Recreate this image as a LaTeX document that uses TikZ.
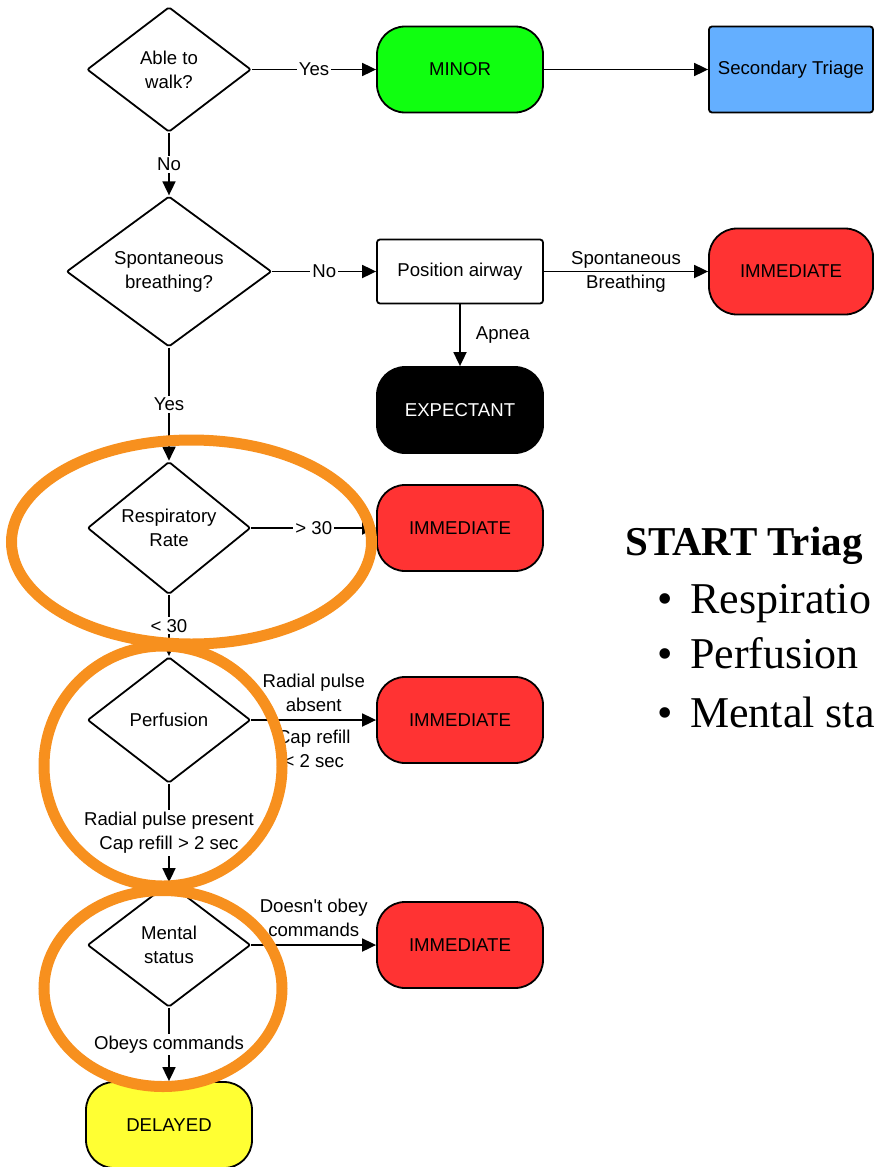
\documentclass[tikz,border=0pt]{standalone}
\usepackage{fontspec}
\setmainfont{Liberation Sans}
\newfontfamily\slidefont{Liberation Serif}
\usetikzlibrary{shapes.geometric,arrows.meta}
\definecolor{minorgreen}{RGB}{16,255,16}
\definecolor{triageblue}{RGB}{100,175,255}
\definecolor{immred}{RGB}{255,51,51}
\definecolor{delayyellow}{RGB}{255,255,51}
\definecolor{markorange}{RGB}{247,144,30}
\newcommand{\diagfont}{\fontsize{18.6}{24}\selectfont}
\begin{document}
\begin{tikzpicture}[x=1pt,y=-1pt,
	decision/.style={diamond,draw,line width=1.8pt,rounded corners=2pt,inner sep=0pt,align=center,font=\diagfont},
	terminal/.style={rectangle,draw,line width=1.8pt,rounded corners=28pt,minimum width=166pt,minimum height=86pt,font=\diagfont},
	process/.style={rectangle,draw,line width=1.8pt,rounded corners=3pt,minimum width=166pt,font=\diagfont},
	arrow/.style={line width=1.8pt,-{Triangle[length=14pt,width=13pt]}},
	lbl/.style={fill=white,inner sep=2pt,align=center,font=\diagfont},
	sidelbl/.style={inner sep=1pt,align=center,font=\diagfont},
	mark_ring/.style={draw=markorange,line width=11pt},
	slide/.style={inner sep=0pt,anchor=base west,font=\slidefont\fontsize{44}{54}\selectfont}]
	
	\useasboundingbox (0,0) rectangle (874,1167);
	\clip (0,0) rectangle (874,1167);
	
	\node[decision,minimum width=164pt,minimum height=125pt] (walk) at (169,69.5) {Able to\\walk?};
	\node[terminal,fill=minorgreen] (minor) at (460,69.5) {MINOR};
	\node[process,fill=triageblue,minimum width=164pt,minimum height=86pt] (second) at (791,69.5) {Secondary Triage};
	\node[decision,minimum width=205pt,minimum height=147pt] (breath) at (169,271.5) {Spontaneous\\breathing?};
	\node[process,fill=white,minimum height=64pt] (airway) at (460,271.5) {Position airway};
	\node[terminal,fill=immred,minimum width=164pt] (imm1) at (791,271.5) {IMMEDIATE};
	\node[terminal,fill=black,text=white] (expect) at (460,410) {EXPECTANT};
	\node[decision,minimum width=163pt,minimum height=126pt] (resp) at (169,528) {Respiratory\\Rate};
	\node[terminal,fill=immred] (imm2) at (460,528) {IMMEDIATE};
	\node[decision,minimum width=163pt,minimum height=126pt] (perf) at (169,720) {Perfusion};
	\node[terminal,fill=immred] (imm3) at (460,720) {IMMEDIATE};
	\node[decision,minimum width=163pt,minimum height=124pt] (mental) at (169,945) {Mental\\status};
	\node[terminal,fill=immred] (imm4) at (460,945) {IMMEDIATE};
	\node[terminal,fill=delayyellow] (delayed) at (169,1125) {DELAYED};
	
	\draw[arrow] (walk) -- node[lbl]{Yes} (minor);
	\draw[arrow] (minor) -- (second);
	\draw[arrow] (walk) -- node[lbl]{No} (breath);
	\draw[arrow] (breath) -- node[lbl]{No} (airway);
	\draw[arrow] (airway) -- node[sidelbl]{Spontaneous\\Breathing} (imm1);
	\draw[arrow] (airway) -- node[sidelbl,right=14pt]{Apnea} (expect);
	\draw[arrow] (breath) -- node[lbl]{Yes} (resp);
	\draw[arrow] (resp) -- node[lbl]{> 30} (imm2);
	\draw[arrow] (resp) -- node[lbl]{< 30} (perf);
	\draw[arrow] (perf) -- node[sidelbl,above=6pt]{Radial pulse\\absent} node[sidelbl,below=8pt]{Cap refill\\< 2 sec} (imm3);
	\draw[arrow] (perf) -- node[lbl]{Radial pulse present\\Cap refill > 2 sec} (mental);
	\draw[arrow] (mental) -- node[sidelbl,above=6pt]{Doesn\textquotesingle t obey\\commands} (imm4);
	\draw[arrow] (mental) -- node[lbl]{Obeys commands} (delayed);
	
	% highlight rings
	\draw[mark_ring] (191.5,542) ellipse [x radius=180pt,y radius=102pt];
	\draw[mark_ring] (163,766) ellipse [x radius=119pt,y radius=120pt];
	\draw[mark_ring] (163,988.5) ellipse [x radius=119pt,y radius=98pt];
	
	\node[slide,font=\slidefont\bfseries\fontsize{41}{50}\selectfont] (title) at (625,555) {START Triag};
	\node[slide] (point1) at (657,613) {\makebox[33pt][l]{\textbullet}Respiratio};
	\node[slide] (point2) at (657,668) {\makebox[33pt][l]{\textbullet}Perfusion};
	\node[slide] (point3) at (657,727) {\makebox[33pt][l]{\textbullet}Mental sta};
\end{tikzpicture}
\end{document}
